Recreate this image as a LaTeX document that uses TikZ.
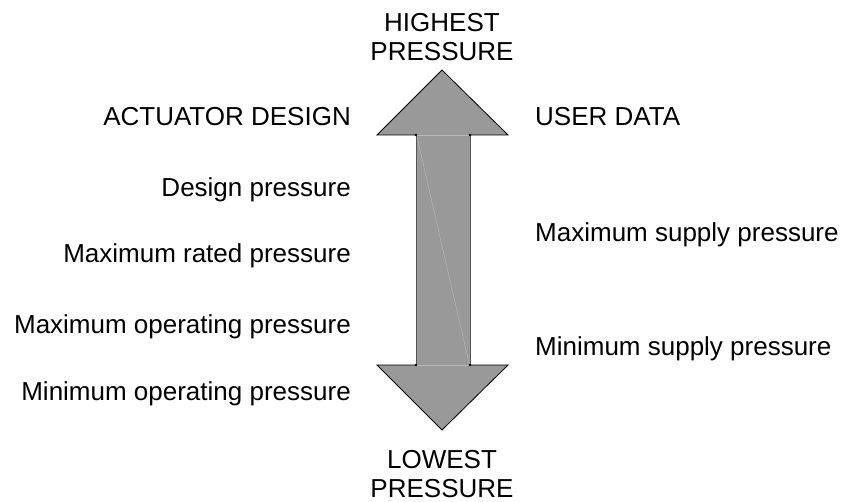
\documentclass[tikz,border=0pt]{standalone}
\usepackage{fontspec}
\setmainfont{Liberation Sans}
\definecolor{arrowfill}{RGB}{153,153,153}
\definecolor{shaftedge}{RGB}{85,85,85}
\definecolor{seam}{RGB}{185,185,185}
\begin{document}
\begin{tikzpicture}[x=1pt,y=-1pt,
  lbl/.style={inner sep=0pt,font=\fontsize{26}{29}\selectfont},
  lleft/.style={lbl,anchor=base east},
  lright/.style={lbl,anchor=base west},
  ltop/.style={lbl,align=center,anchor=base}]
\useasboundingbox (0,0) rectangle (845,502);
% double arrow
\coordinate (tipT) at (442,70);
\coordinate (tipB) at (442,430);
\fill[arrowfill]
  (tipT) -- (508,135) -- (470,135) -- (470,365) -- (508,365) -- (tipB)
  -- (377,365) -- (416,365) -- (416,135) -- (377,135) -- cycle;
\draw[line width=0.8pt,black,line join=miter]
  (470,135) -- (508,135) -- (tipT) -- (377,135) -- (416,135);
\draw[line width=0.8pt,black,line join=miter]
  (470,365) -- (508,365) -- (tipB) -- (377,365) -- (416,365);
\draw[line width=0.9pt,shaftedge] (416,135) -- (416,365);
\draw[line width=0.9pt,shaftedge] (470,135) -- (470,365);
\draw[line width=0.4pt,seam] (416,135) -- (470,135);
\draw[line width=0.4pt,seam] (416,365) -- (470,365);
\draw[line width=0.4pt,seam] (417,137) -- (469,363);
\foreach \p in {(416,135),(470,135),(416,365),(470,365)}
  \fill[black] \p circle (1.3pt);
% labels (base anchor = baseline of the last line)
\node[ltop] (high) at (442,61) {HIGHEST\\PRESSURE};
\node[ltop] (low) at (442,497) {LOWEST\\PRESSURE};
\node[lleft] (act) at (351,126) {ACTUATOR DESIGN};
\node[lright] (user) at (535,126) {USER DATA};
\node[lleft] (dp) at (351,197) {Design pressure};
\node[lleft] (mrp) at (351,263) {Maximum rated pressure};
\node[lleft] (mop) at (351,333) {Maximum operating pressure};
\node[lleft] (minop) at (351,400) {Minimum operating pressure};
\node[lright] (msp) at (535,242) {Maximum supply pressure};
\node[lright] (minsp) at (535,355) {Minimum supply pressure};
\end{tikzpicture}
\end{document}
